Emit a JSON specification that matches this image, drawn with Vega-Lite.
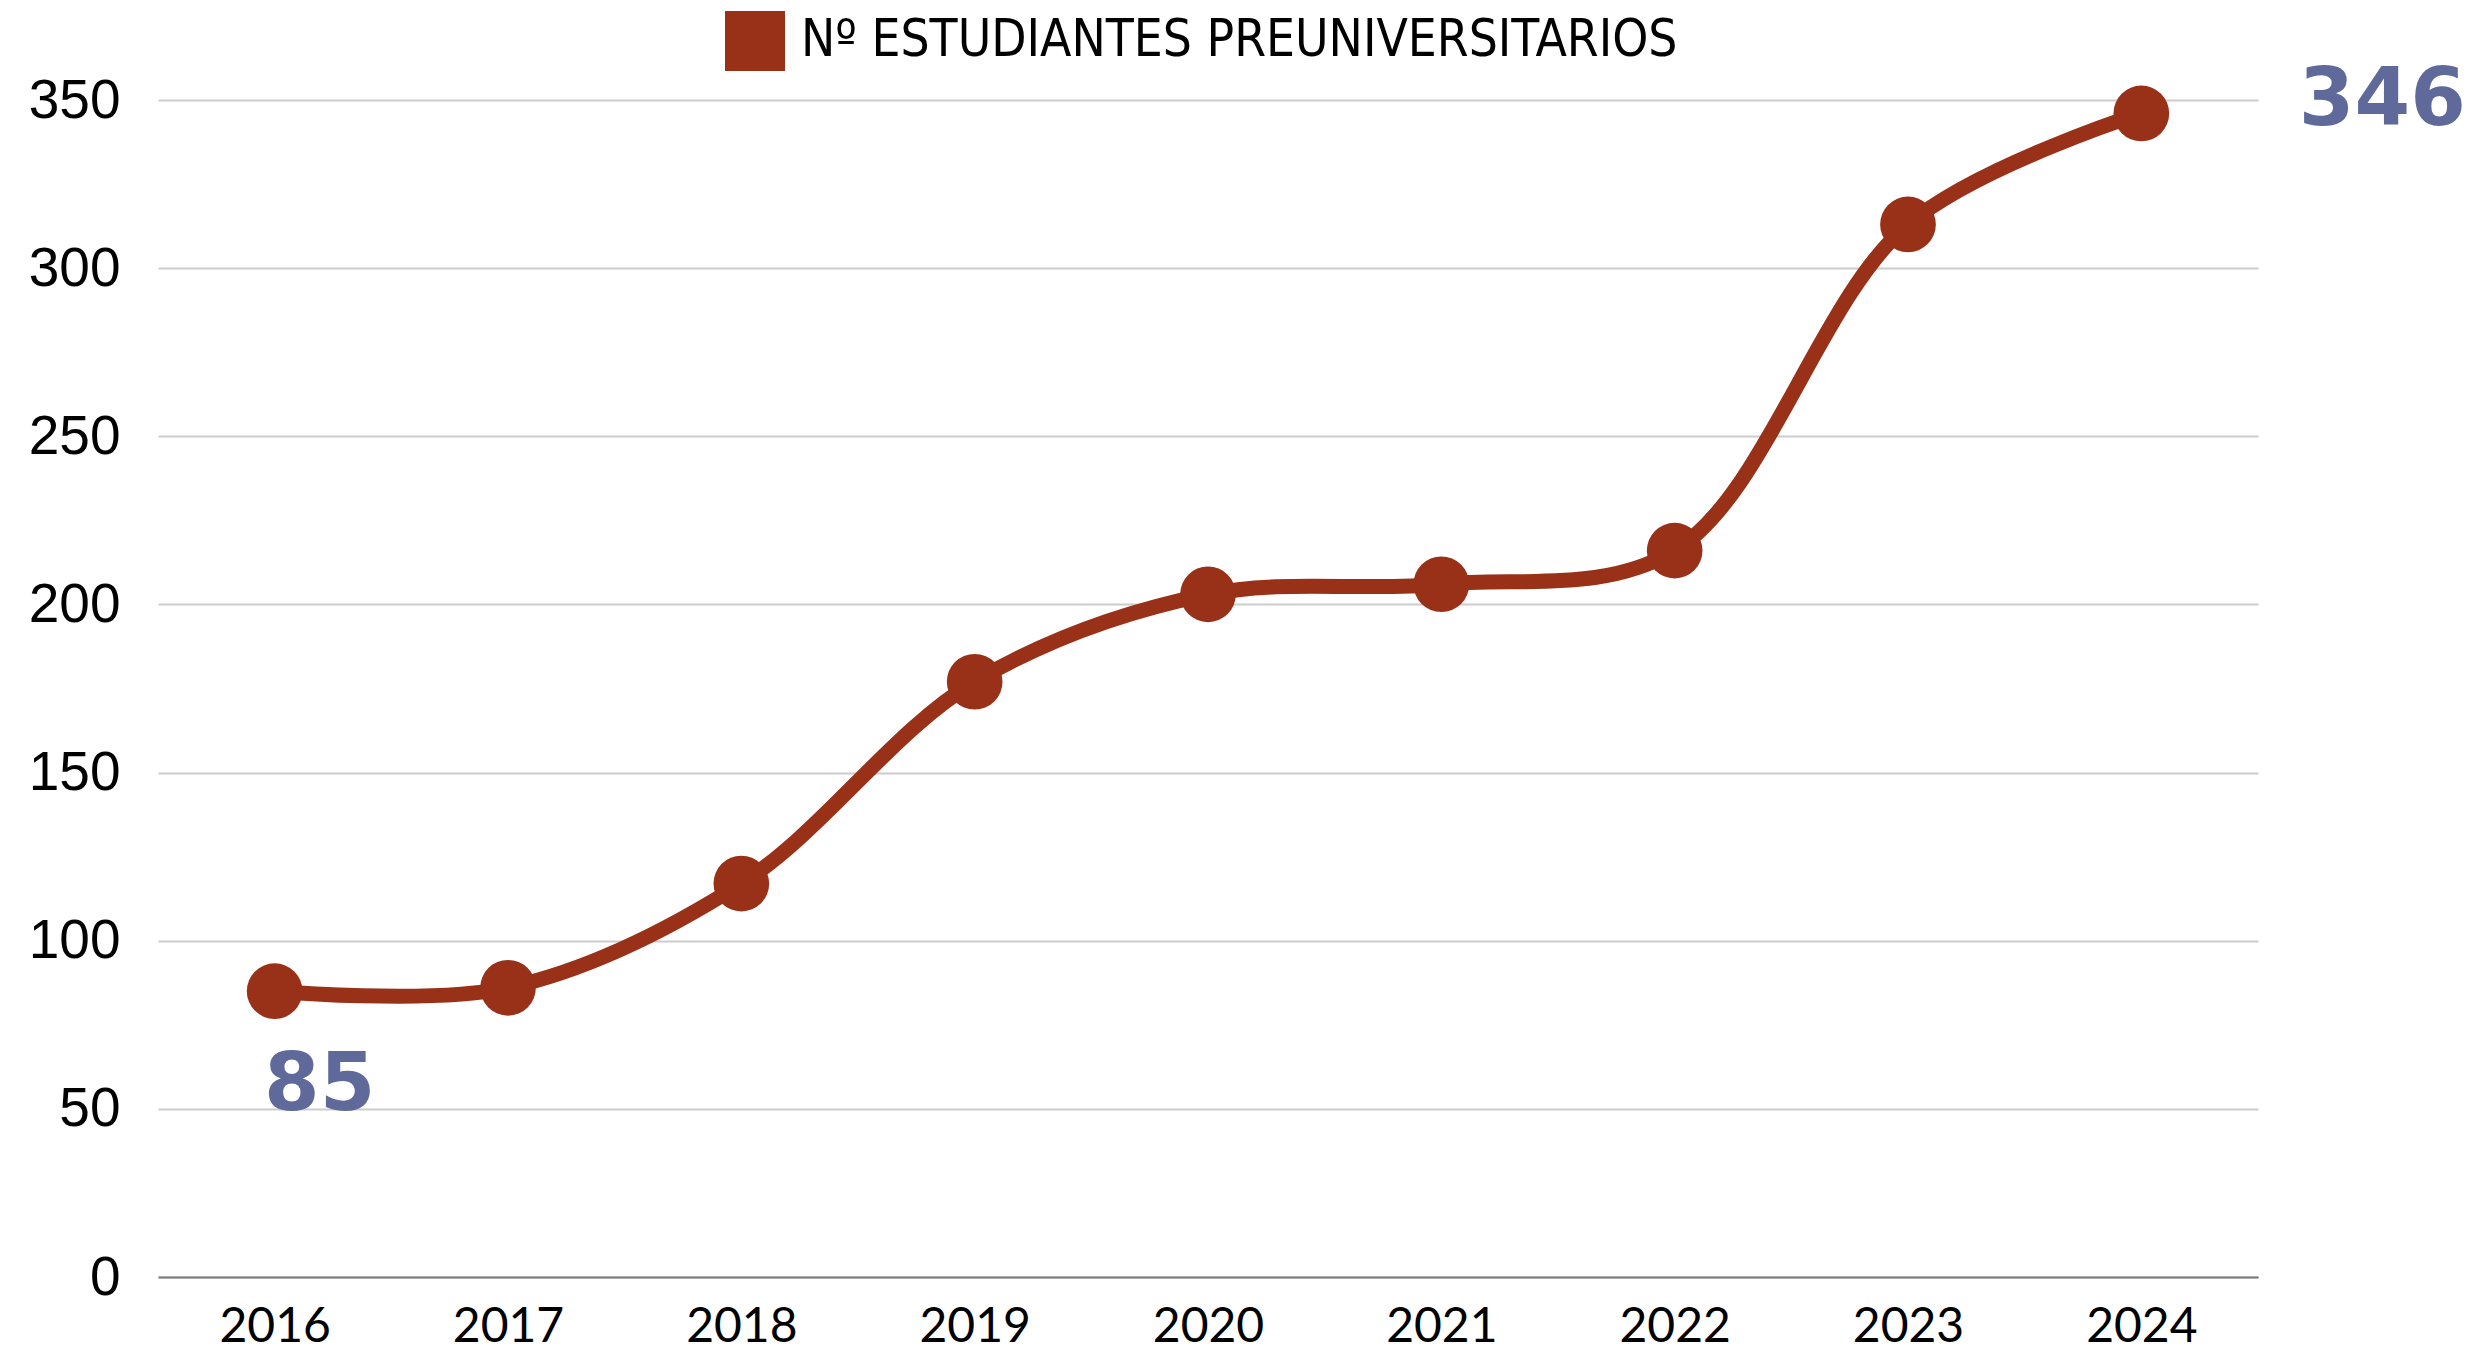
{
  "$schema": "https://vega.github.io/schema/vega-lite/v6.json",
  "autosize": "none",
  "width": 2100,
  "height": 1177,
  "padding": {"left": 158, "top": 100, "right": 223, "bottom": 74},
  "background": "white",
  "config": {"view": {"stroke": null}},
  "data": {"values": [
    {"year": "2016", "value": 85, "serie": "Nº ESTUDIANTES PREUNIVERSITARIOS"},
    {"year": "2017", "value": 86, "serie": "Nº ESTUDIANTES PREUNIVERSITARIOS"},
    {"year": "2018", "value": 117, "serie": "Nº ESTUDIANTES PREUNIVERSITARIOS"},
    {"year": "2019", "value": 177, "serie": "Nº ESTUDIANTES PREUNIVERSITARIOS"},
    {"year": "2020", "value": 203, "serie": "Nº ESTUDIANTES PREUNIVERSITARIOS"},
    {"year": "2021", "value": 206, "serie": "Nº ESTUDIANTES PREUNIVERSITARIOS"},
    {"year": "2022", "value": 216, "serie": "Nº ESTUDIANTES PREUNIVERSITARIOS"},
    {"year": "2023", "value": 313, "serie": "Nº ESTUDIANTES PREUNIVERSITARIOS"},
    {"year": "2024", "value": 346, "serie": "Nº ESTUDIANTES PREUNIVERSITARIOS"}
  ]},
  "encoding": {
    "x": {"field": "year", "type": "ordinal", "scale": {"type": "point", "padding": 0.5},
      "axis": {"title": null, "labelAngle": 0, "labelFont": "Lato", "labelFontSize": 48, "labelColor": "#000000",
        "labelPadding": 26, "ticks": false, "grid": false, "domainColor": "#7a7a7a", "domainWidth": 2}},
    "y": {"field": "value", "type": "quantitative", "scale": {"domain": [0, 350], "nice": false},
      "axis": {"title": null, "values": [0, 50, 100, 150, 200, 250, 300, 350], "labelFont": "Liberation Sans",
        "labelFontSize": 55, "labelColor": "#000000", "labelPadding": 38, "ticks": false, "domain": false,
        "gridColor": "#cccccc", "gridWidth": 2}}
  },
  "layer": [
    {"mark": {"type": "line", "interpolate": "catmull-rom", "strokeWidth": 15, "color": "#993118"},
     "encoding": {}},
    {"mark": {"type": "point", "filled": true, "opacity": 1, "size": 3100, "shape": "circle"},
     "encoding": {
       "color": {"field": "serie", "type": "nominal", "scale": {"range": ["#993118"]},
         "legend": {"title": null, "orient": "none", "legendX": 567, "legendY": -89, "symbolType": "square",
           "symbolSize": 3600, "symbolStrokeWidth": 0, "labelFont": "'DejaVu Sans Condensed', Roboto, sans-serif", "labelFontSize": 51,
           "labelColor": "#000000", "labelLimit": 2000, "labelOffset": 16}}
     }},
    {"transform": [{"filter": "datum.year == '2016'"}],
     "mark": {"type": "text", "font": "DejaVu Sans", "fontWeight": "bold", "fontSize": 80, "color": "#5f6a9a",
       "dx": 45, "dy": 95, "baseline": "middle"},
     "encoding": {"text": {"field": "value", "type": "quantitative"}}},
    {"transform": [{"filter": "datum.year == '2024'"}],
     "mark": {"type": "text", "font": "DejaVu Sans", "fontWeight": "bold", "fontSize": 80, "color": "#5f6a9a",
       "dx": 241, "dy": -12, "baseline": "middle"},
     "encoding": {"text": {"field": "value", "type": "quantitative"}}}
  ]
}
